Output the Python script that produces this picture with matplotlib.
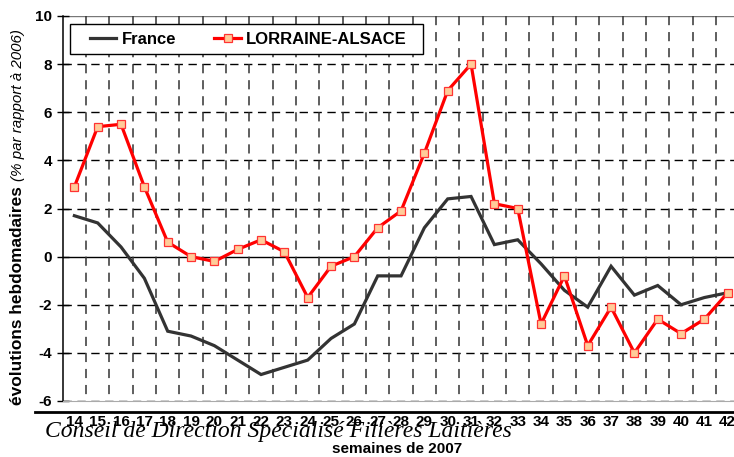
import matplotlib
matplotlib.use("Agg")
import matplotlib.pyplot as plt
import numpy as np
from matplotlib.lines import Line2D
from matplotlib.patches import Rectangle

plt.rcParams["font.family"] = ["Liberation Sans", "DejaVu Sans"]

# semaines 14 a 42
weeks = list(range(14, 43))

france = [1.7, 1.4, 0.4, -0.9, -3.1, -3.3, -3.7, -4.3, -4.9, -4.6,
          -4.3, -3.4, -2.8, -0.8, -0.8, 1.2, 2.4, 2.5, 0.5, 0.7,
          -0.3, -1.4, -2.1, -0.4, -1.6, -1.2, -2.0, -1.7, -1.5]

lorraine = [2.9, 5.4, 5.5, 2.9, 0.6, 0.0, -0.2, 0.3, 0.7, 0.2,
            -1.7, -0.4, 0.0, 1.2, 1.9, 4.3, 6.9, 8.0, 2.2, 2.0,
            -2.8, -0.8, -3.7, -2.1, -4.0, -2.6, -3.2, -2.6, -1.5]

y_ticks = [10, 8, 6, 4, 2, 0, -2, -4, -6]

W, H = 734, 457
fig = plt.figure(figsize=(W / 100, H / 100), dpi=100)

# axes extends past the right edge (clipped like the reference)
left, right, top, bottom = 62.7, 739.4, 16, 401
ax = fig.add_axes([left / W, (H - bottom) / H, (right - left) / W, (bottom - top) / H])
ax.set_xlim(13.5, 42.5)
ax.set_ylim(-6, 10)

# grid
for v in y_ticks:
    if v == 0:
        ax.axhline(v, color="black", lw=1, zorder=1)
    elif v == 10:
        ax.axhline(v, color="#777777", lw=1, zorder=1)
    else:
        ax.axhline(v, color="black", lw=1, ls=(0, (6, 4)), zorder=1)
ax.vlines(np.arange(14.5, 43), ymin=10, ymax=-6, colors="#333333", lw=1.1,
          linestyles=[(0, (6, 4.5))], zorder=1)

ax.plot(weeks, france, color="#333333", lw=2.3, zorder=3,
        solid_joinstyle="miter", label="France")
ax.plot(weeks, lorraine, color="#ff0000", lw=2.3, zorder=4,
        marker="s", markersize=5.8, markerfacecolor="#ffcc99",
        markeredgecolor="#ff3333", markeredgewidth=0.9, label="LORRAINE-ALSACE")

for s in ["top", "right"]:
    ax.spines[s].set_visible(False)
ax.spines["bottom"].set_color("#aaaaaa")
ax.spines["left"].set_linewidth(1.1)

ax.set_yticks(y_ticks)
ax.set_yticklabels([str(v) for v in y_ticks], fontweight="bold", fontsize=11)
ax.tick_params(axis="y", direction="inout", length=9, width=1, pad=3)
ax.set_xticks(weeks)
ax.set_xticklabels([str(w) for w in weeks], fontweight="bold", fontsize=11)
ax.tick_params(axis="x", length=0, pad=10)

# legend
ax.add_patch(Rectangle((0.0108, 0.901), 0.5215, 0.078, transform=ax.transAxes,
                       facecolor="white", edgecolor="black", lw=1, zorder=5))
leg = ax.legend(loc="center left", bbox_to_anchor=(0.040, 0.940), ncol=2,
                frameon=False, prop={"weight": "bold", "size": 12},
                handlelength=1.6, handletextpad=0.3, columnspacing=2.3,
                borderpad=0, borderaxespad=0)
leg.set_zorder(6)

# footer
fig.add_artist(Line2D([35 / W, 1], [(H - 412) / H] * 2, transform=fig.transFigure,
                      color="black", lw=2))
fig.text(45 / W, (H - 437) / H, "Conseil de Direction Spécialisé Filières Laitières",
         family="Liberation Serif", style="italic", fontsize=17, va="baseline")
fig.text(397 / W, (H - 449) / H, "semaines de 2007", fontweight="bold",
         fontsize=11, ha="center", va="center")

# y label: bold part then italic part above it
t1 = fig.text(18 / W, (H - 405) / H, "évolutions hebdomadaires", rotation=90,
              fontweight="bold", fontsize=12.4, ha="center", va="bottom")
renderer = fig.canvas.get_renderer()
bb = t1.get_window_extent(renderer)
fig.text(18 / W, (bb.y1 + 5) / H, "(% par rapport à 2006)", rotation=90,
         style="italic", fontsize=10.9, ha="center", va="bottom")

fig.savefig("out.png", dpi=100)
